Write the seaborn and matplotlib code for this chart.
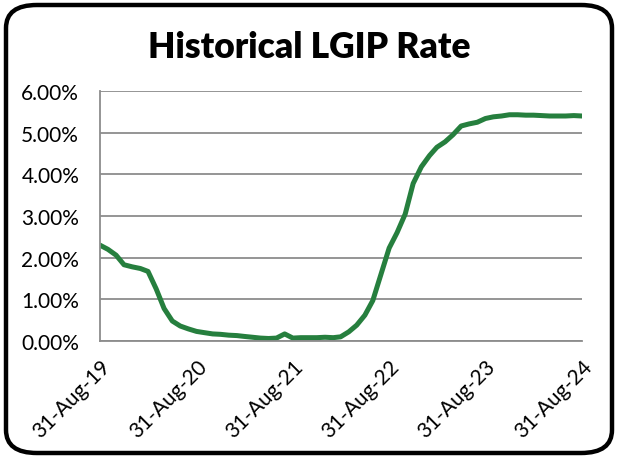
import pandas as pd
import seaborn as sns
import matplotlib.pyplot as plt
import matplotlib.dates as mdates
from matplotlib.patches import FancyBboxPatch
from matplotlib.ticker import FuncFormatter

# monthly LGIP rate (%), Aug-2019 .. Aug-2024
months = pd.date_range('2019-08-31', periods=61, freq='ME')
rate = [2.30, 2.20, 2.06, 1.83, 1.78, 1.74, 1.67, 1.25, 0.78, 0.48,
        0.36, 0.29, 0.23, 0.20, 0.17, 0.16, 0.14, 0.13, 0.11, 0.09,
        0.07, 0.06, 0.07, 0.17, 0.07, 0.08, 0.08, 0.08, 0.09, 0.08,
        0.10, 0.22, 0.38, 0.62, 0.97, 1.60, 2.23, 2.60, 3.05, 3.78,
        4.18, 4.45, 4.65, 4.78, 4.95, 5.16, 5.21, 5.25, 5.34, 5.38,
        5.40, 5.43, 5.43, 5.42, 5.42, 5.41, 5.40, 5.40, 5.40, 5.41,
        5.40]
tick_dates = pd.to_datetime(['2019-08-31', '2020-08-31', '2021-08-31',
                             '2022-08-31', '2023-08-31', '2024-08-31'])
yticks = [0, 1, 2, 3, 4, 5, 6]

df = pd.DataFrame({'date': months, 'rate': rate})

sns.set_style('white')
plt.rcParams['font.family'] = ['Lato', 'DejaVu Sans']

fig = plt.figure(figsize=(6.18, 4.60), dpi=100)
ax = fig.add_axes([100 / 618, 1 - 342 / 460, 482 / 618, 250 / 460])

sns.lineplot(data=df, x='date', y='rate', ax=ax, color='#267f3e', linewidth=3.6)

ax.set_ylim(0, 6)
ax.set_yticks(yticks)
ax.yaxis.set_major_formatter(FuncFormatter(lambda v, p: f'{v:.2f}%'))
ax.set_xlim(tick_dates[0], tick_dates[-1])
ax.set_xticks(tick_dates)
ax.xaxis.set_major_formatter(mdates.DateFormatter('%d-%b-%y'))
ax.grid(axis='y', color='#8c8c8c', linewidth=1.3)
ax.set_axisbelow(True)
for s in ['top', 'right']:
    ax.spines[s].set_visible(False)
for s in ['left', 'bottom']:
    ax.spines[s].set_color('#8c8c8c')
    ax.spines[s].set_linewidth(1.3)
ax.tick_params(axis='both', which='major', length=6, width=1.3, color='#8c8c8c',
               labelsize=15, labelcolor='black', direction='out')
ax.tick_params(axis='y', pad=7, length=8)
ax.tick_params(axis='x', pad=5)
ax.set_xlabel('')
ax.set_ylabel('')
for lbl in ax.get_xticklabels():
    lbl.set_rotation(45)
    lbl.set_ha('right')
    lbl.set_rotation_mode('anchor')

fig.text(0.5, 1 - 48 / 460, 'Historical LGIP Rate', ha='center', va='center',
         fontsize=25.5, fontweight='heavy', color='black')

border = FancyBboxPatch((6 / 618, 6 / 460), 606 / 618, 448 / 460,
                        boxstyle='round,pad=0,rounding_size=0.05',
                        transform=fig.transFigure, fill=False,
                        edgecolor='black', linewidth=3.2)
fig.patches.append(border)

fig.savefig('out.png', dpi=100)
